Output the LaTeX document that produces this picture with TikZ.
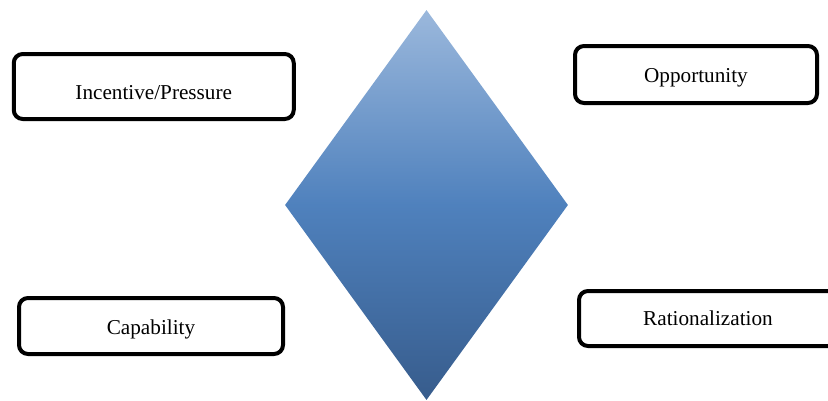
\documentclass[tikz,border=0pt]{standalone}
\usepackage{fontspec}
\setmainfont{Liberation Serif}
\usetikzlibrary{shapes.geometric}
\definecolor{dtop}{HTML}{9BB8DC}
\definecolor{dmid}{HTML}{4F81BD}
\definecolor{dbot}{HTML}{375C8C}
\newcommand{\baselab}[2]{\raisebox{-#1}[0pt][0pt]{#2}}
\tikzset{
  fbox/.style={draw=black, line width=4pt, rounded corners=9pt, fill=white,
    inner sep=0pt, font=\fontsize{21.2}{25}\selectfont},
}
\begin{document}
\begin{tikzpicture}[x=1pt,y=-1pt]
\useasboundingbox (0,0) rectangle (828,400);
\node[diamond, inner sep=0pt, minimum width=283pt, minimum height=390pt,
  top color=dtop, bottom color=dbot, middle color=dmid] (fraud) at (426.5,205) {};
\node[fbox, minimum width=280pt, minimum height=65pt] (incentive) at (153.75,86.5) {\baselab{12.5pt}{Incentive/Pressure}};
\node[fbox, minimum width=242pt, minimum height=57pt] (opportunity) at (696,74.5) {\baselab{7.5pt}{Opportunity}};
\node[fbox, minimum width=264pt, minimum height=56pt] (capability) at (151,326) {\baselab{8pt}{Capability}};
\node[fbox, minimum width=258pt, minimum height=55pt] (rational) at (708,318.5) {\baselab{7.2pt}{Rationalization}};
\end{tikzpicture}
\end{document}
